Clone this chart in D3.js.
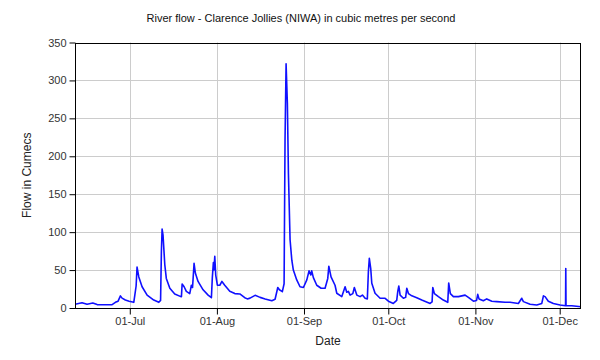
<!DOCTYPE html>
<html>
<head>
<meta charset="utf-8">
<script src="https://cdn.jsdelivr.net/npm/d3@7"></script>
<style>
  html, body { margin: 0; padding: 0; background: #fff; }
  svg { display: block; font-family: "Liberation Sans", Arial, sans-serif; }
</style>
</head>
<body>
<svg id="chart" width="600" height="360"></svg>
<script>
const title = "River flow - Clarence Jollies (NIWA) in cubic metres per second";
const xLabel = "Date";
const yLabel = "Flow in Cumecs";

const dates = [
  "2023-06-11 13","2023-06-14 00","2023-06-15 19","2023-06-17 20","2023-06-19 09","2023-06-22 05",
  "2023-06-24 17","2023-06-25 21","2023-06-26 20","2023-06-27 16","2023-06-28 06","2023-06-29 10",
  "2023-06-30 18","2023-07-02 10","2023-07-02 19","2023-07-03 06","2023-07-03 14","2023-07-04 05",
  "2023-07-05 09","2023-07-07 04","2023-07-09 13","2023-07-11 08","2023-07-11 23","2023-07-12 06",
  "2023-07-12 12","2023-07-12 20","2023-07-13 11","2023-07-14 00","2023-07-15 06","2023-07-17 00",
  "2023-07-19 04","2023-07-19 09","2023-07-19 15","2023-07-20 08","2023-07-21 03","2023-07-22 08",
  "2023-07-22 22","2023-07-23 08","2023-07-23 21","2023-07-24 08","2023-07-25 07","2023-07-27 02",
  "2023-07-28 21","2023-07-30 01","2023-07-30 09","2023-07-30 18","2023-07-30 23","2023-07-31 06",
  "2023-07-31 14","2023-08-01 04","2023-08-02 01","2023-08-02 19","2023-08-03 19","2023-08-05 14",
  "2023-08-07 09","2023-08-09 04","2023-08-10 22","2023-08-11 20","2023-08-12 19","2023-08-14 14",
  "2023-08-16 09","2023-08-18 04","2023-08-20 13","2023-08-21 17","2023-08-22 16","2023-08-23 06",
  "2023-08-24 07","2023-08-24 22","2023-08-25 06","2023-08-25 15","2023-08-26 02","2023-08-26 11",
  "2023-08-27 01","2023-08-27 16","2023-08-28 05","2023-08-29 10","2023-08-30 14","2023-08-31 19",
  "2023-09-02 00","2023-09-02 19","2023-09-03 10","2023-09-03 18","2023-09-04 08","2023-09-05 13",
  "2023-09-07 02","2023-09-08 12","2023-09-09 11","2023-09-09 20","2023-09-10 15","2023-09-12 01",
  "2023-09-12 16","2023-09-14 11","2023-09-15 15","2023-09-16 05","2023-09-16 19","2023-09-17 10",
  "2023-09-18 09","2023-09-18 22","2023-09-19 19","2023-09-20 23","2023-09-21 19","2023-09-22 18",
  "2023-09-23 13","2023-09-23 22","2023-09-24 06","2023-09-24 18","2023-09-25 03","2023-09-26 07",
  "2023-09-28 02","2023-09-29 21","2023-10-01 01","2023-10-02 19","2023-10-04 00","2023-10-04 09",
  "2023-10-04 18","2023-10-05 05","2023-10-06 09","2023-10-07 04","2023-10-07 14","2023-10-08 04",
  "2023-10-09 09","2023-10-11 03","2023-10-12 22","2023-10-15 21","2023-10-16 14","2023-10-16 20",
  "2023-10-17 10","2023-10-18 20","2023-10-20 14","2023-10-22 04","2023-10-22 12","2023-10-23 02",
  "2023-10-24 04","2023-10-25 23","2023-10-27 04","2023-10-28 08","2023-10-29 12","2023-10-31 07",
  "2023-11-01 10","2023-11-01 20","2023-11-02 07","2023-11-03 20","2023-11-05 01","2023-11-06 20",
  "2023-11-08 14","2023-11-11 13","2023-11-13 08","2023-11-16 07","2023-11-17 12","2023-11-18 02",
  "2023-11-20 11","2023-11-22 20","2023-11-24 15","2023-11-25 05","2023-11-25 19","2023-11-26 23",
  "2023-11-28 18","2023-12-01 03","2023-12-03 02","2023-12-03 04","2023-12-03 06","2023-12-05 07",
  "2023-12-08 14"
];
const flows = [
  5, 7, 5, 6.6, 4.5, 4.2,
  4.5, 7.5, 9, 16, 13, 10.5,
  9, 7.5, 17, 29, 54, 41,
  28, 17, 10.5, 7.5, 10, 75,
  104, 96, 57, 39, 26, 18.5,
  15, 15, 31.7, 28, 22, 19,
  30, 27, 59, 46, 35, 24,
  17, 13.6, 40, 60, 50, 68,
  43.5, 30, 30, 35, 30, 22,
  19, 18.5, 13.6, 12, 13, 16.7,
  14, 12, 9.6, 11.5, 27, 24,
  21.5, 32, 221, 322, 270, 177,
  90, 63, 50, 37, 28, 27,
  37, 49, 43.5, 49, 40, 30,
  26, 26, 39, 55, 41, 30,
  19.4, 15, 28, 20.7, 22, 17,
  19, 27, 17, 15, 17, 12.8,
  12, 48, 65.5, 52, 32.6, 19.4,
  12.8, 12.8, 9, 6, 10, 22,
  29, 17, 12.8, 14, 26, 19,
  16, 13.6, 10.5, 6, 8, 27,
  19, 15, 10.5, 7.5, 33, 19,
  15, 15, 16, 17, 14, 9,
  10, 18, 12, 9.6, 12, 9,
  8.4, 7.5, 7.5, 6, 12.8, 8.4,
  5, 4, 6, 16, 15, 9,
  6, 4, 3, 52, 3, 3,
  1.7
];
const yTicks = [0, 50, 100, 150, 200, 250, 300, 350];
const xTickDates = ["2023-07-01", "2023-08-01", "2023-09-01", "2023-10-01", "2023-11-01", "2023-12-01"];
const xDomain = ["2023-06-11 12", "2023-12-08 14"];

const parseDT = d3.utcParse("%Y-%m-%d %H");
const parseD = d3.utcParse("%Y-%m-%d");
const data = dates.map((d, i) => ({ date: parseDT(d), value: flows[i] }));

const svg = d3.select("#chart");
const margin = { left: 75, right: 19, top: 42.5, bottom: 52 };
const W = 600, H = 360;
const x = d3.scaleUtc().domain(xDomain.map(parseDT)).range([margin.left, W - margin.right]);
const y = d3.scaleLinear().domain([0, 350]).range([H - margin.bottom, margin.top]);

// gridlines
const grid = svg.append("g").attr("stroke", "#cccccc").attr("stroke-width", 1);
yTicks.filter(t => t > 0 && t < 350).forEach(t => {
  grid.append("line").attr("x1", margin.left).attr("x2", W - margin.right)
    .attr("y1", Math.round(y(t)) + 0.5).attr("y2", Math.round(y(t)) + 0.5);
});
xTickDates.forEach(t => {
  const xx = Math.round(x(parseD(t))) + 0.5;
  grid.append("line").attr("x1", xx).attr("x2", xx).attr("y1", margin.top).attr("y2", H - margin.bottom);
});

// line
svg.append("defs").append("clipPath").attr("id", "clip").append("rect")
  .attr("x", margin.left).attr("y", margin.top)
  .attr("width", W - margin.left - margin.right).attr("height", H - margin.top - margin.bottom);
svg.append("path").datum(data)
  .attr("clip-path", "url(#clip)")
  .attr("fill", "none").attr("stroke", "#1010ff").attr("stroke-width", 1.6)
  .attr("stroke-linejoin", "round")
  .attr("d", d3.line().x(d => x(d.date)).y(d => y(d.value)));

// frame
svg.append("rect").attr("x", margin.left + 0.5).attr("y", Math.round(margin.top) + 0.5)
  .attr("width", W - margin.left - margin.right - 1).attr("height", (H - margin.bottom) - Math.round(margin.top))
  .attr("fill", "none").attr("stroke", "#000").attr("stroke-width", 1);

// axes
const yAxis = d3.axisLeft(y).tickValues(yTicks).tickSize(6).tickPadding(3).tickFormat(d3.format("d"));
const ya = svg.append("g").attr("transform", `translate(${margin.left + 0.5},0)`).call(yAxis);
const xAxis = d3.axisBottom(x).tickValues(xTickDates.map(parseD)).tickSize(6).tickPadding(3)
  .tickFormat(d3.utcFormat("%d-%b"));
const xa = svg.append("g").attr("transform", `translate(0,${H - margin.bottom + 0.5})`).call(xAxis);
[ya, xa].forEach(a => {
  a.select(".domain").remove();
  a.selectAll("text").attr("font-size", 11).attr("fill", "#333").attr("font-family", "Liberation Sans, Arial, sans-serif");
  a.selectAll("line").attr("stroke", "#000");
});

// titles
svg.append("text").attr("x", 301).attr("y", 22).attr("text-anchor", "middle")
  .attr("font-size", 11).attr("fill", "#111").text(title);
svg.append("text").attr("x", (margin.left + W - margin.right) / 2).attr("y", 345).attr("text-anchor", "middle")
  .attr("font-size", 12).attr("fill", "#222").text(xLabel);
svg.append("text").attr("transform", `translate(31,${(margin.top + H - margin.bottom) / 2}) rotate(-90)`)
  .attr("text-anchor", "middle").attr("font-size", 12).attr("fill", "#222").text(yLabel);
</script>
</body>
</html>
